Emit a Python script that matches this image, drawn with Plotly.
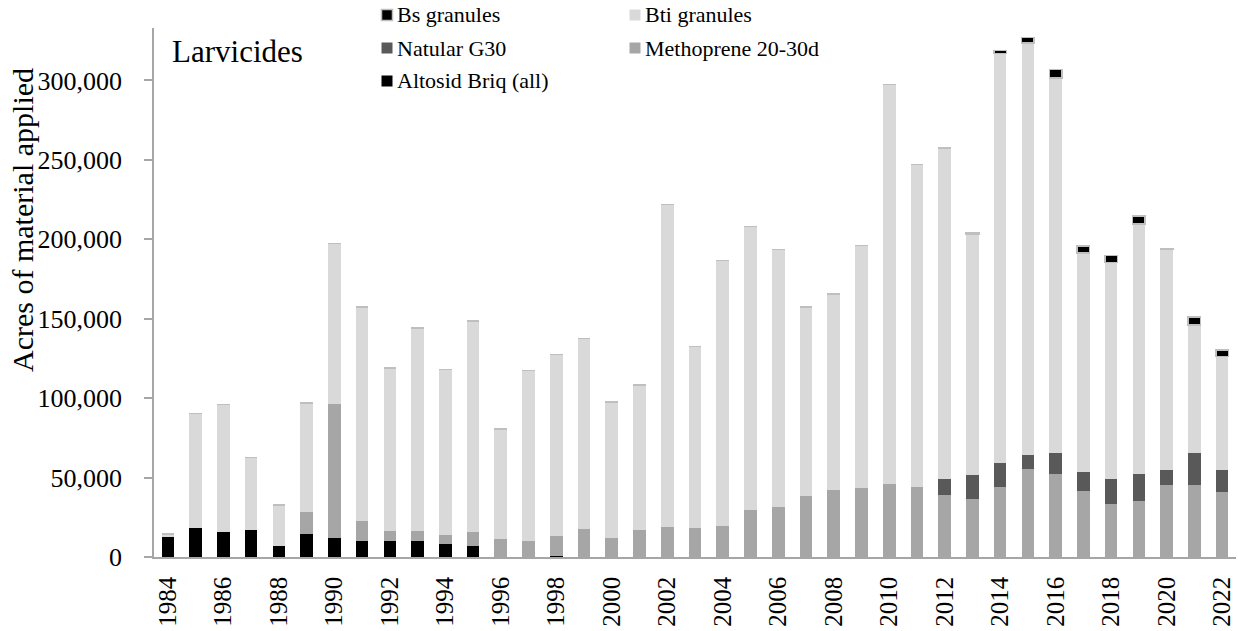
import plotly.graph_objects as go

years = list(range(1984, 2023))

altosid = [12600, 18400, 15500, 17200, 7100, 14700, 12000, 10300, 9800, 10000,
           8200, 6900, 0, 0, 800, 0, 0, 0, 0, 0,
           0, 0, 0, 0, 0, 0, 0, 0, 0, 0,
           0, 0, 0, 0, 0, 0, 0, 0, 0]
methoprene = [0, 0, 0, 0, 0, 13800, 84400, 12100, 6300, 6300,
              5800, 9000, 11300, 9800, 12400, 17800, 12000, 16700, 18600, 18400,
              19300, 29900, 31600, 38600, 42100, 43200, 46200, 44000, 39200, 36700,
              44000, 55600, 52200, 41500, 33600, 35000, 45500, 45500, 41100]
natular = [0, 0, 0, 0, 0, 0, 0, 0, 0, 0,
           0, 0, 0, 0, 0, 0, 0, 0, 0, 0,
           0, 0, 0, 0, 0, 0, 0, 0, 9700, 15100,
           15100, 8600, 13200, 12200, 15700, 17000, 9200, 20200, 13400]
bti = [1900, 71900, 80500, 45400, 25600, 68400, 101100, 135100, 102900, 127700,
       104000, 132600, 69200, 107700, 114300, 119700, 85500, 91700, 203400, 114100,
       167200, 178100, 161900, 118900, 123400, 152800, 251300, 203000, 208600, 151600,
       257800, 259300, 236100, 137600, 136100, 157700, 138800, 80400, 71700]
bs = [0, 0, 0, 0, 0, 0, 0, 0, 0, 0,
      0, 0, 0, 0, 0, 0, 0, 0, 0, 0,
      0, 0, 0, 0, 0, 0, 0, 0, 0, 1000,
      2000, 3500, 5500, 4500, 4500, 5000, 800, 5000, 4000]

series = [
    ("Altosid Briq (all)", altosid, "#000000", "#000000", 0),
    ("Methoprene 20-30d", methoprene, "#a6a6a6", "#a6a6a6", 0),
    ("Natular G30", natular, "#595959", "#595959", 0),
    ("Bti granules", bti, "#d9d9d9", "#d9d9d9", 0),
    ("Bs granules", bs, "#000000", "#bfbfbf", 1.5),
]

tick_years = years[::2]
y_ticks = [0, 50000, 100000, 150000, 200000, 250000, 300000]

W, H = 1238, 631
L, R, T, B = 154, 1236, 28, 557


def px(x):
    return (x - L) / (R - L)


def py(y):
    return (B - y) / (B - T)


fig = go.Figure()
for name, vals, color, lcolor, lw in series:
    fig.add_trace(go.Bar(
        x=years, y=vals, name=name, showlegend=False,
        marker=dict(color=color, line=dict(color=lcolor, width=lw)),
    ))

FONT = "Liberation Serif, Times New Roman, serif"

# manual legend (two columns, Excel-like), positions in pixels
legend_items = [
    ("Bs granules", "#000000", "#bfbfbf", 387, 15),
    ("Bti granules", "#d9d9d9", "#d9d9d9", 635, 15),
    ("Natular G30", "#595959", "#595959", 387, 48),
    ("Methoprene 20-30d", "#a6a6a6", "#a6a6a6", 635, 48),
    ("Altosid Briq (all)", "#000000", "#000000", 387, 81),
]
shapes = []
annotations = []
for name, fc, lc, cx, cy in legend_items:
    s = 5.5
    shapes.append(dict(type="rect", xref="paper", yref="paper",
                       x0=px(cx - s), x1=px(cx + s), y0=py(cy + s), y1=py(cy - s),
                       fillcolor=fc, line=dict(color=lc, width=1.5 if lc != fc else 0)))
    annotations.append(dict(xref="paper", yref="paper", x=px(cx + 8), y=py(cy),
                            xanchor="left", yanchor="middle", showarrow=False,
                            text=name, font=dict(family=FONT, size=22, color="#000000")))

annotations.append(dict(xref="paper", yref="paper", x=px(170), y=py(52),
                        xanchor="left", yanchor="middle", showarrow=False,
                        text="Larvicides", font=dict(family=FONT, size=31, color="#000000")))
annotations.append(dict(xref="paper", yref="paper", x=px(22), y=py(220),
                        xanchor="center", yanchor="middle", showarrow=False, textangle=-90,
                        text="Acres of material applied",
                        font=dict(family=FONT, size=30, color="#000000")))

fig.update_layout(
    width=W, height=H,
    barmode="stack", bargap=0.545,
    plot_bgcolor="white", paper_bgcolor="white",
    margin=dict(l=L, r=W - R, t=T, b=H - B, pad=0),
    font=dict(family=FONT, color="#000000"),
    shapes=shapes, annotations=annotations,
    showlegend=False,
)
fig.update_xaxes(
    range=[1983.5, 2022.5], tickvals=tick_years, ticktext=[str(v) for v in tick_years],
    tickangle=-90, tickfont=dict(family=FONT, size=25, color="#000000"),
    showline=True, linecolor="#a6a6a6", linewidth=1.5, ticks="", showgrid=False,
    zeroline=False, ticklabelstandoff=8,
)
fig.update_yaxes(
    range=[0, 333000], tickvals=y_ticks, tickformat=",d",
    tickfont=dict(family=FONT, size=26, color="#000000"),
    showline=True, linecolor="#a6a6a6", linewidth=1.5, ticks="outside", ticklen=8,
    tickcolor="#a6a6a6", tickwidth=1.5, showgrid=False, zeroline=False,
    ticklabelstandoff=17,
)

# remove the browser's default 8px page margin so the figure fills the window
fig.write_html("out.html",
               config={"displayModeBar": False},
               post_script="document.body.style.margin='0';document.body.style.overflow='hidden';")
